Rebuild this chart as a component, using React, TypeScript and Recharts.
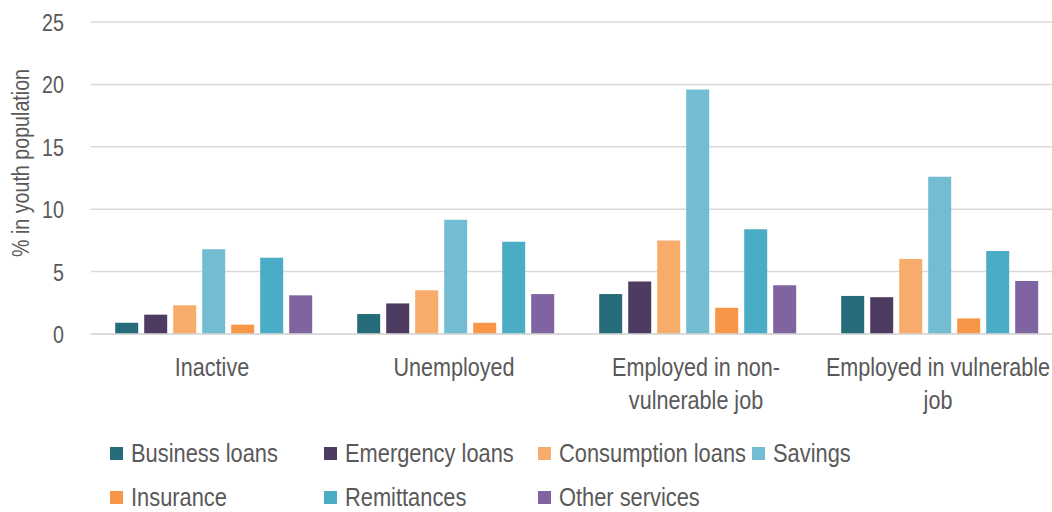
import { BarChart, Bar, XAxis, YAxis, CartesianGrid, Label } from 'recharts';

// No Arial Narrow in the sandbox: squeeze Liberation Sans (Arial metrics) to narrow width
const FONT = "'Liberation Sans', Arial, sans-serif";
const NARROW = 0.82;
const TEXT = '#595959';
const GRID = '#d9d9d9';

const categories = ['Inactive', 'Unemployed', 'Employed in non-vulnerable job', 'Employed in vulnerable job'];
const tickLines = [['Inactive'], ['Unemployed'], ['Employed in non-', 'vulnerable job'], ['Employed in vulnerable', 'job']];
const yTicks = [0, 5, 10, 15, 20, 25];

const businessLoans = [0.9, 1.6, 3.2, 3.05];
const emergencyLoans = [1.55, 2.45, 4.2, 2.95];
const consumptionLoans = [2.3, 3.5, 7.5, 6.0];
const savings = [6.8, 9.15, 19.6, 12.6];
const insurance = [0.75, 0.9, 2.1, 1.25];
const remittances = [6.1, 7.4, 8.4, 6.65];
const otherServices = [3.1, 3.2, 3.9, 4.25];

const series = [
  { key: 'business', name: 'Business loans', color: '#256b7a', values: businessLoans },
  { key: 'emergency', name: 'Emergency loans', color: '#4e3b62', values: emergencyLoans },
  { key: 'consumption', name: 'Consumption loans', color: '#f8ac6c', values: consumptionLoans },
  { key: 'savings', name: 'Savings', color: '#72bdd1', values: savings },
  { key: 'insurance', name: 'Insurance', color: '#f79646', values: insurance },
  { key: 'remittances', name: 'Remittances', color: '#4bacc6', values: remittances },
  { key: 'other', name: 'Other services', color: '#8064a2', values: otherServices },
];

const data = categories.map((name, i) => {
  const row: Record<string, string | number> = { name };
  series.forEach((s) => { row[s.key] = s.values[i]; });
  return row;
});

function CategoryTick({ x, y, payload }: { x: number; y: number; payload: { index: number } }) {
  const lines = tickLines[payload.index] || [];
  return (
    <g transform={`translate(${x},${y}) scale(0.83,1)`}>
      <text x={0} y={0} textAnchor="middle" fill={TEXT} fontSize={26} fontFamily={FONT}>
        {lines.map((line, i) => (
          <tspan key={i} x={0} dy={i === 0 ? 42 : 33}>{line}</tspan>
        ))}
      </text>
    </g>
  );
}

function ValueTick({ x, y, payload }: { x: number; y: number; payload: { value: number } }) {
  return (
    <g transform={`translate(${x},${y}) scale(${NARROW},1)`}>
      <text x={0} y={0} dy={9} textAnchor="end" fill={TEXT} fontSize={24} fontFamily={FONT}>{payload.value}</text>
    </g>
  );
}

function AxisTitle({ viewBox }: { viewBox?: { x: number; y: number; width: number; height: number } }) {
  if (!viewBox) return null;
  const cy = viewBox.y + viewBox.height / 2 - 15;
  return (
    <g transform={`translate(21,${cy}) rotate(-90) scale(${NARROW},1)`}>
      <text x={0} y={0} dy={8} textAnchor="middle" fill={TEXT} fontSize={24} fontFamily={FONT}>% in youth population</text>
    </g>
  );
}

function ChartLegend() {
  // Excel-style legend: fixed-width columns, 4 items per row
  return (
    <div style={{ position: 'absolute', left: 110, top: 436, width: 900, display: 'grid', gridTemplateColumns: 'repeat(4, 214px)', rowGap: 10 }}>
      {series.map((s) => (
        <div key={s.key} style={{ display: 'flex', alignItems: 'center', height: 34, fontSize: 26, color: TEXT, fontFamily: FONT, whiteSpace: 'nowrap' }}>
          <span style={{ width: 13, height: 13, background: s.color, marginRight: 8, flex: 'none' }} />
          <span style={{ display: 'inline-block', transform: 'scaleX(0.84)', transformOrigin: 'left center' }}>{s.name}</span>
        </div>
      ))}
    </div>
  );
}

export default function App() {
  return (
    <div style={{ position: 'absolute', left: 0, top: 0, width: 1052, height: 512, overflow: 'hidden', background: '#fff', fontFamily: FONT }}>
      <BarChart
        width={1060}
        height={512}
        data={data}
        margin={{ top: 22, right: 1, bottom: 98, left: 0 }}
        barCategoryGap="10%"
        barGap={6}
      >
        <CartesianGrid vertical={false} stroke={GRID} strokeWidth={1.5} />
        <XAxis
          dataKey="name"
          height={80}
          tickLine={false}
          axisLine={{ stroke: GRID, strokeWidth: 1.5 }}
          tickSize={0}
          tickMargin={0}
          interval={0}
          tick={CategoryTick}
        />
        <YAxis
          width={91}
          domain={[0, 25]}
          ticks={yTicks}
          axisLine={false}
          tickLine={false}
          tickSize={0}
          tickMargin={27}
          tick={ValueTick}
        >
          <Label content={AxisTitle} position="center" />
        </YAxis>
        {series.map((s) => (
          <Bar key={s.key} dataKey={s.key} name={s.name} fill={s.color} isAnimationActive={false} />
        ))}
      </BarChart>
      <ChartLegend />
    </div>
  );
}
